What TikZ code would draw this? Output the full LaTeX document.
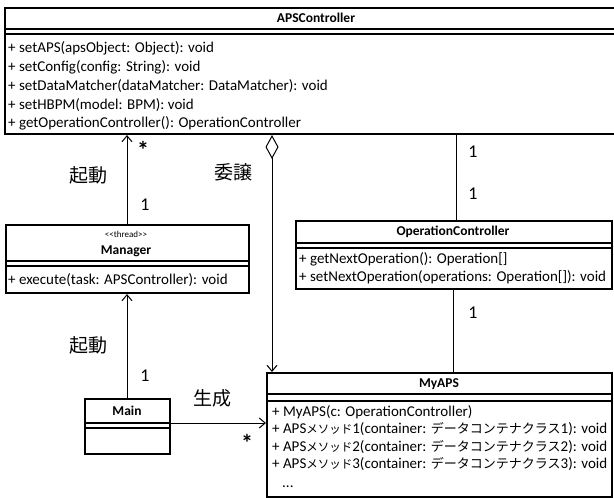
\documentclass[tikz,border=0pt]{standalone}
\usepackage{fontspec}
\setmainfont{Carlito}
\newfontfamily\jp{Noto Sans CJK JP}
\usetikzlibrary{arrows.meta}
\newcommand{\smkana}[1]{{\jp\fontsize{11.5}{13}\selectfont #1}}
\newcommand{\bgkana}[1]{{\jp\fontsize{13}{14}\selectfont #1}}
\begin{document}
\begin{tikzpicture}[x=1pt,y=-1pt,
  umlbox/.style={draw=black,line width=2pt,inner sep=0pt,anchor=north west},
  sepline/.style={line width=2pt},
  conn/.style={line width=1pt},
  arr/.style={conn,-{Straight Barb[length=6pt,width=10pt,line width=1pt]}},
  title/.style={font=\fontsize{13.5}{15}\selectfont\bfseries,inner sep=0pt},
  meth/.style={font=\fontsize{15}{17}\selectfont,anchor=west,inner sep=0pt},
  jlabel/.style={font=\jp\fontsize{19}{21}\selectfont,inner sep=0pt},
  mult/.style={font=\fontsize{18}{20}\selectfont,inner sep=0pt},
  star/.style={font=\fontsize{24}{26}\selectfont\bfseries,inner sep=0pt}]
\useasboundingbox (0,0) rectangle (614,498);

% ---------- APSController ----------
\node[umlbox,minimum width=624pt,minimum height=126pt] (aps) at (4,7) {};
\draw[sepline] ([yshift=-22pt]aps.north west) -- ([yshift=-22pt]aps.north east);
\draw[sepline] ([yshift=-27pt]aps.north west) -- ([yshift=-27pt]aps.north east);
\node[title] (apst) at (316,18) {APSController};
\node[meth] (aps1) at (8,48) {+ setAPS(apsObject: Object): void};
\node[meth] (aps2) at (8,67) {+ setConfig(config: String): void};
\node[meth] (aps3) at (8,86) {+ setDataMatcher(dataMatcher: DataMatcher): void};
\node[meth] (aps4) at (8,105) {+ setHBPM(model: BPM): void};
\node[meth] (aps5) at (8,123) {+ getOperationController(): OperationController};

% ---------- Manager ----------
\node[umlbox,minimum width=243pt,minimum height=68pt] (mgr) at (5,224) {};
\draw[sepline] ([yshift=-37pt]mgr.north west) -- ([yshift=-37pt]mgr.north east);
\draw[sepline] ([yshift=-42pt]mgr.north west) -- ([yshift=-42pt]mgr.north east);
\node[inner sep=0pt,font=\fontsize{9}{10}\selectfont] (mgrs) at (126,234) {<{}<thread>{}>};
\node[title] (mgrt) at (126,251) {Manager};
\node[meth] (mgr1) at (8,280) {+ execute(task: APSController): void};

% ---------- Main ----------
\node[umlbox,minimum width=85pt,minimum height=55pt] (main) at (84,398) {};
\draw[sepline] ([yshift=-25pt]main.north west) -- ([yshift=-25pt]main.north east);
\draw[sepline] ([yshift=-30pt]main.north west) -- ([yshift=-30pt]main.north east);
\node[title] (maint) at (127,411) {Main};

% ---------- OperationController ----------
\node[umlbox,minimum width=316pt,minimum height=68pt] (opc) at (295,220) {};
\draw[sepline] ([yshift=-23pt]opc.north west) -- ([yshift=-23pt]opc.north east);
\draw[sepline] ([yshift=-28pt]opc.north west) -- ([yshift=-28pt]opc.north east);
\node[title] (opct) at (453,232) {OperationController};
\node[meth] (opc1) at (299,259) {+ getNextOperation(): Operation[]};
\node[meth] (opc2) at (299,277) {+ setNextOperation(operations: Operation[]): void};

% ---------- MyAPS ----------
\node[umlbox,minimum width=345pt,minimum height=124pt] (my) at (266,372) {};
\draw[sepline] ([yshift=-22pt]my.north west) -- ([yshift=-22pt]my.north east);
\draw[sepline] ([yshift=-29pt]my.north west) -- ([yshift=-29pt]my.north east);
\node[title] (myt) at (439,384) {MyAPS};
\node[meth] (my1) at (272,412) {+ MyAPS(c: OperationController)};
\node[meth] (my2) at (272,429) {+ APS\smkana{メソッド}1(container: \bgkana{データコンテナクラス}1): void};
\node[meth] (my3) at (272,447) {+ APS\smkana{メソッド}2(container: \bgkana{データコンテナクラス}2): void};
\node[meth] (my4) at (272,464) {+ APS\smkana{メソッド}3(container: \bgkana{データコンテナクラス}3): void};
\node[meth,anchor=base west] (my5) at (282,487) {...};

% ---------- connector anchors ----------
\coordinate (c127) at (127,0);
\coordinate (c272) at (272,0);
\coordinate (c456) at (456,0);
\coordinate (c453) at (453,0);
\coordinate (c423) at (0,423);

% ---------- connectors ----------
\draw[arr] (mgr.north -| c127) -- (aps.south -| c127);
\draw[arr] (main.north -| c127) -- (mgr.south -| c127);
\draw[arr] (main.east |- c423) -- (my.west |- c423);
\draw[conn,{Diamond[open,length=24pt,width=13pt,line width=1pt]}-{Straight Barb[length=6pt,width=10pt,line width=1pt]}] (aps.south -| c272) -- (my.north -| c272);
\draw[conn] (aps.south -| c456) -- (opc.north -| c456);
\draw[conn] (opc.south -| c453) -- (my.north -| c453);

% ---------- labels ----------
\node[star] (s1) at (143,150) {*};
\node[jlabel] (l1) at (88,175) {起動};
\node[mult] (m1) at (145,205) {1};
\node[jlabel] (l2) at (233,172) {委譲};
\node[mult] (m2) at (473,152) {1};
\node[mult] (m3) at (473,194) {1};
\node[mult] (m4) at (473,313) {1};
\node[jlabel] (l3) at (88,345) {起動};
\node[mult] (m5) at (145,376) {1};
\node[jlabel] (l4) at (212,398) {生成};
\node[star] (s2) at (247,443) {*};
\end{tikzpicture}
\end{document}
